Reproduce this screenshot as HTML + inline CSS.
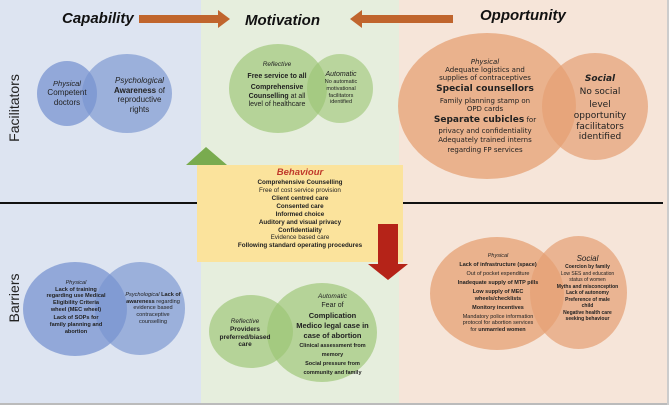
<!DOCTYPE html>
<html><head><meta charset="utf-8"><style>
*{margin:0;padding:0;box-sizing:border-box}
body{width:669px;height:405px;overflow:hidden;position:relative;background:#fff;font-family:"Liberation Sans",sans-serif;color:#222}
.a{position:absolute}
.c{position:absolute;border-radius:50%}
.t{position:absolute;text-align:center;line-height:1.2}
b{font-weight:bold}
i{font-style:italic}
.h{font-style:italic;font-weight:bold;font-size:15px;color:#111;position:absolute}
</style></head><body>
<div class="a" style="left:0;top:0;width:201px;height:403px;background:#dde4f1"></div>
<div class="a" style="left:201px;top:0;width:198px;height:403px;background:#e6eedd"></div>
<div class="a" style="left:399px;top:0;width:268px;height:403px;background:#f6e5d9"></div>
<div class="a" style="left:0;top:403px;width:669px;height:2px;background:#bbb"></div>
<div class="a" style="left:667px;top:0;width:2px;height:405px;background:#ccc"></div>
<div class="a" style="left:0;top:202px;width:663px;height:2px;background:#111"></div>

<div class="h" style="left:62px;top:10px">Capability</div>
<div class="h" style="left:245px;top:12px">Motivation</div>
<div class="h" style="left:480px;top:7px">Opportunity</div>
<svg class="a" style="left:0;top:0" width="669" height="405">
<polygon points="139,15 218,15 218,10 230,19 218,28 218,23 139,23" fill="#c0652d"/>
<polygon points="453,15 362,15 362,10 350,19 362,28 362,23 453,23" fill="#c0652d"/>
</svg>

<div class="a" style="left:4px;top:70px;width:20px;height:80px;"><div style="transform:rotate(-90deg);transform-origin:center;position:absolute;left:-30px;top:30px;width:80px;text-align:center;font-size:14px">Facilitators</div></div>
<div class="a" style="left:4px;top:260px;width:20px;height:80px;"><div style="transform:rotate(-90deg);position:absolute;left:-30px;top:30px;width:80px;text-align:center;font-size:14px">Barriers</div></div>

<!-- capability facilitators -->
<div class="c" style="left:37px;top:61px;width:60px;height:65px;background:rgba(120,148,208,0.75)"></div>
<div class="c" style="left:82px;top:54px;width:90px;height:79px;background:rgba(120,148,208,0.65)"></div>
<div class="t" style="left:37px;top:79px;width:60px;font-size:7.5px"><i>Physical</i><br><span style="font-size:8px">Competent<br>doctors</span></div>
<div class="t" style="left:102px;top:76px;width:75px;font-size:8px"><i>Psychological</i><br><b>Awareness</b> of<br>reproductive<br>rights</div>

<!-- motivation facilitators -->
<div class="c" style="left:229px;top:44px;width:98px;height:89px;background:rgba(155,196,115,0.65)"></div>
<div class="c" style="left:307px;top:54px;width:66px;height:69px;background:rgba(155,196,115,0.6)"></div>
<div class="t" style="left:232px;top:61px;width:90px;font-size:6.5px"><i>Reflective</i><br><b style="font-size:7px;line-height:2.2">Free service to all</b><br><span style="font-size:7px"><b>Comprehensive<br>Counselling</b> at all<br>level of healthcare</span></div>
<div class="t" style="left:310px;top:71px;width:62px;font-size:5.5px"><i style="font-size:7px">Automatic</i><br>No automatic<br>motivational<br>facilitators<br>identified</div>

<!-- opportunity facilitators -->
<div class="c" style="left:398px;top:33px;width:178px;height:146px;background:rgba(230,160,115,0.75)"></div>
<div class="c" style="left:542px;top:53px;width:106px;height:107px;background:rgba(230,160,115,0.7)"></div>
<div class="t" style="left:420px;top:58px;width:130px;font-size:7px;font-family:'DejaVu Sans',sans-serif;line-height:1.15"><i>Physical</i><br>Adequate logistics and<br>supplies of contraceptives<br><b style="font-size:9px;line-height:1.6">Special counsellors</b><br>Family planning stamp on<br>OPD cards<br><b style="font-size:9px;line-height:1.6">Separate cubicles</b> for<br>privacy and confidentiality<br><span style="line-height:1.6">Adequately trained interns</span><br>regarding FP services</div>
<div class="t" style="left:560px;top:74px;width:80px;font-size:9px;font-family:'DejaVu Sans',sans-serif;line-height:1.2"><b><i>Social</i></b><br><span style="line-height:1.7">No social</span><br>level<br>opportunity<br>facilitators<br>identified</div>

<!-- behaviour -->
<svg class="a" style="left:0;top:0" width="669" height="405">
<polygon points="197,207 217,207 217,165 227,165 206,147 186,165 197,165" fill="#79ab4f"/>
</svg>
<div class="a" style="left:197px;top:165px;width:206px;height:97px;background:#fbe39c"></div>
<svg class="a" style="left:0;top:0" width="669" height="405">
<polygon points="378,224 398,224 398,264 408,264 388,280 368,264 378,264" fill="#b52318"/>
</svg>
<div class="t" style="left:197px;top:167px;width:206px;font-size:6.3px;line-height:1.26"><b><i style="font-size:9.5px;color:#c0392b">Behaviour</i></b><br><b>Comprehensive Counselling</b><br>Free of cost service provision<br><b>Client centred care</b><br><b>Consented care</b><br><b>Informed choice</b><br><b>Auditory and visual privacy</b><br><b>Confidentiality</b><br>Evidence based care<br><b>Following standard operating procedures</b></div>

<!-- capability barriers -->
<div class="c" style="left:23px;top:262px;width:104px;height:94px;background:rgba(120,148,208,0.75)"></div>
<div class="c" style="left:95px;top:262px;width:90px;height:93px;background:rgba(120,148,208,0.65)"></div>
<div class="t" style="left:36px;top:280px;width:80px;font-size:5.6px"><i>Physical</i><br><b>Lack of training<br>regarding use Medical<br>Eligibility Criteria<br>wheel (MEC wheel)</b><br><b style="line-height:1.6">Lack of SOPs for</b><br><b>family planning and<br>abortion</b></div>
<div class="t" style="left:118px;top:292px;width:70px;font-size:5.6px"><i>Psychological</i> <b>Lack of<br>awareness</b> regarding<br>evidence based<br>contraceptive<br>counselling</div>

<!-- motivation barriers -->
<div class="c" style="left:209px;top:295px;width:84px;height:73px;background:rgba(155,196,115,0.65)"></div>
<div class="c" style="left:267px;top:283px;width:110px;height:99px;background:rgba(155,196,115,0.65)"></div>
<div class="t" style="left:212px;top:318px;width:66px;font-size:6.5px"><i>Reflective</i><br><b>Providers<br>preferred/biased<br>care</b></div>
<div class="t" style="left:290px;top:292px;width:85px;font-size:7px;line-height:1.3"><i style="font-size:6.5px">Automatic</i><br>Fear of<br><b style="font-size:7.5px">Complication</b><br><b style="font-size:7.5px">Medico legal case in<br>case of abortion</b><br><b style="font-size:5.5px">Clinical assessment from<br>memory<br>Social pressure from<br>community and family</b></div>

<!-- opportunity barriers -->
<div class="c" style="left:430px;top:237px;width:134px;height:113px;background:rgba(230,160,115,0.75)"></div>
<div class="c" style="left:530px;top:236px;width:97px;height:113px;background:rgba(230,160,115,0.7)"></div>
<div class="t" style="left:443px;top:253px;width:110px;font-size:5.5px;line-height:1.25"><i>Physical</i><br><b style="line-height:2">Lack of infrastructure (space)</b><br>Out of pocket expenditure<br><b style="line-height:2">Inadequate supply of MTP pills</b><br><b>Low supply of MEC<br>wheels/checklists</b><br><b style="line-height:2">Monitory incentives</b><br>Mandatory police information<br>protocol for abortion services<br>for <b>unmarried women</b></div>
<div class="t" style="left:550px;top:254px;width:75px;font-size:5px;line-height:1.3"><i style="font-size:8px">Social</i><br><b>Coercion by family</b><br>Low SES and education<br>status of women<br><b>Myths and misconception</b><br><b>Lack of autonomy</b><br><b>Preference of male<br>child</b><br><b>Negative health care<br>seeking behaviour</b></div>
</body></html>
